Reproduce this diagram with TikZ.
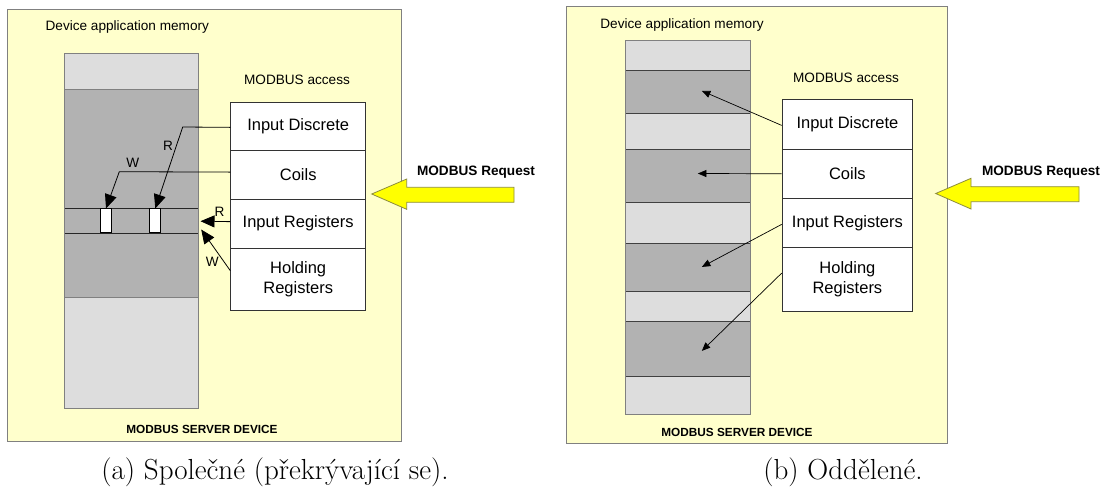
\documentclass[tikz,border=0pt]{standalone}
\usepackage{fontspec}
\newfontfamily\arialf{Liberation Sans}
\usetikzlibrary{arrows.meta}
\definecolor{boxyellow}{RGB}{255,255,204}
\definecolor{memlight}{RGB}{221,221,221}
\definecolor{memdark}{RGB}{178,178,178}
\definecolor{frame}{RGB}{128,128,128}
\definecolor{reqline}{RGB}{140,140,60}
\definecolor{reqfill}{RGB}{255,255,0}
\begin{document}
\begin{tikzpicture}[x=1pt,y=-1pt,
  panel/.style={draw=frame, fill=boxyellow, line width=0.8pt},
  regbox/.style={draw=black!80, fill=white, line width=0.8pt, inner sep=0pt, anchor=north west,
    font=\arialf\fontsize{16.5}{19.5}\selectfont, align=center},
  smalltxt/.style={font=\arialf\fontsize{13.6}{16}\selectfont, inner sep=0pt},
  boldtxt/.style={font=\arialf\bfseries\fontsize{13.6}{16}\selectfont, inner sep=0pt},
  devtxt/.style={font=\arialf\bfseries\fontsize{11.8}{14}\selectfont, inner sep=0pt},
  captxt/.style={font=\fontsize{29}{34}\selectfont, inner sep=0pt},
  cell/.style={draw=black, fill=white, line width=0.8pt, minimum width=11pt, minimum height=23.5pt, inner sep=0pt},
  bigarr/.style={draw=black, line width=0.8pt, -{Triangle[length=14pt,width=12pt]}},
  thinarr/.style={draw=black, line width=0.7pt, -{Triangle[length=8.5pt,width=7pt]}},
  request/.style={draw=reqline, fill=reqfill, line width=0.8pt, line join=miter},
  sepline/.style={draw=black!85, line width=1pt},
  greyline/.style={draw=frame, line width=0.8pt}
]
\useasboundingbox (0,0) rectangle (1107,499);
\fill[white] (0,0) rectangle (1107,499);

%% ---------------- Panel (a) ----------------
\draw[panel] (7.3,9.3) rectangle (401.7,441);
\node[smalltxt] (damA) at (127.3,26.5) {Device application memory};
\node[smalltxt] (maA) at (297,80) {MODBUS access};
\node[devtxt] (sdA) at (202,429.3) {MODBUS SERVER DEVICE};

% memory column
\fill[memlight] (64,53.3) rectangle (198.7,408.3);
\fill[memdark] (64,89.3) rectangle (198.7,297.7);
\draw[greyline] (64,89.3) -- (198.7,89.3);
\draw[greyline] (64,297.7) -- (198.7,297.7);
\draw[sepline] (64,208.3) -- (198.7,208.3);
\draw[sepline] (64,233.3) -- (198.7,233.3);
\draw[greyline] (64,53.3) rectangle (198.7,408.3);
\node[cell] (wa) at (106,220.6) {};
\node[cell] (wb) at (155.3,220.6) {};
\coordinate (bandR) at (200.5,221.2);
\coordinate (bandW) at (201.2,229.5);

% access table
\node[regbox, minimum width=135pt, minimum height=47.7pt] (idA) at (230.3,102.3) {Input Discrete};
\node[regbox, minimum width=135pt, minimum height=49pt] (coA) at (230.3,150) {Coils};
\node[regbox, minimum width=135pt, minimum height=48.5pt] (irA) at (230.3,199) {Input Registers};
\node[regbox, minimum width=135pt, minimum height=62.5pt] (hrA) at (230.3,247.5) {Holding\\Registers};

% access arrows
\draw[bigarr] ([yshift=-0.8pt]idA.west) -- (182.7,127) -- (wb.north);
\draw[bigarr] ([yshift=2.8pt]coA.west) -- (119.3,171.7) -- (wa.north);
\draw[bigarr] ([yshift=2pt]irA.west) -- (bandR);
\draw[bigarr] ([yshift=8.5pt]hrA.west) -- (bandW);
\node[smalltxt] (lR1) at (168,145.5) {R};
\node[smalltxt] (lW1) at (132.7,163.3) {W};
\node[smalltxt] (lR2) at (219.5,212.3) {R};
\node[smalltxt] (lW2) at (212.3,262.3) {W};

% request arrow
\draw[request] (371.7,194) -- (406.7,179) -- (406.7,187.3) -- (514,187.3) -- (514,202.3) -- (406.7,202.3) -- (406.7,209.3) -- cycle;
\node[boldtxt] (rqA) at (476,172) {MODBUS Request};

\node[captxt] (capA) at (275,472) {(a) Společné (překrývající se).};

%% ---------------- Panel (b) ----------------
\draw[panel] (566,6.7) rectangle (947.3,443.3);
\node[smalltxt] (damB) at (682,25) {Device application memory};
\node[smalltxt] (maB) at (846,78.3) {MODBUS access};
\node[devtxt] (sdB) at (737,432.3) {MODBUS SERVER DEVICE};

% memory column
\fill[memlight] (625.7,40.7) rectangle (750,414);
\node[fill=memdark, inner sep=0pt, minimum width=124.3pt, minimum height=43pt, anchor=north west] (b1) at (625.7,70.3) {};
\node[fill=memdark, inner sep=0pt, minimum width=124.3pt, minimum height=53pt, anchor=north west] (b2) at (625.7,149.3) {};
\node[fill=memdark, inner sep=0pt, minimum width=124.3pt, minimum height=48.4pt, anchor=north west] (b3) at (625.7,243.3) {};
\node[fill=memdark, inner sep=0pt, minimum width=124.3pt, minimum height=55pt, anchor=north west] (b4) at (625.7,321.7) {};
\foreach \yy in {70.3,113.3,149.3,202.3,243.3,291.7,321.7,376.7}
  \draw[draw=black!75, line width=0.9pt] (625.7,\yy) -- (750,\yy);
\draw[greyline] (625.7,40.7) rectangle (750,414);

% access table
\node[regbox, minimum width=130.6pt, minimum height=49.4pt] (idB) at (781.7,99.3) {Input Discrete};
\node[regbox, minimum width=130.6pt, minimum height=49.3pt] (coB) at (781.7,148.7) {Coils};
\node[regbox, minimum width=130.6pt, minimum height=49.3pt] (irB) at (781.7,198) {Input Registers};
\node[regbox, minimum width=130.6pt, minimum height=63.4pt] (hrB) at (781.7,247.3) {Holding\\Registers};

% access arrows
\draw[thinarr] ([yshift=-1pt]idB.west) -- ([xshift=13.8pt,yshift=1.1pt]b1.center);
\draw[thinarr] (coB.west) -- ([xshift=9.8pt,yshift=2.5pt]b2.center);
\draw[thinarr] ([yshift=-1.3pt]irB.west) -- ([xshift=13.8pt,yshift=0.8pt]b3.center);
\draw[thinarr] ([yshift=6.3pt]hrB.west) -- ([xshift=13.8pt,yshift=-1.5pt]b4.center);

% request arrow
\draw[request] (935.7,193.5) -- (971,178.3) -- (971,186.7) -- (1079,186.7) -- (1079,201.7) -- (971,201.7) -- (971,209) -- cycle;
\node[boldtxt] (rqB) at (1041,172) {MODBUS Request};

\node[captxt] (capB) at (843,472) {(b) Oddělené.};
\end{tikzpicture}
\end{document}
